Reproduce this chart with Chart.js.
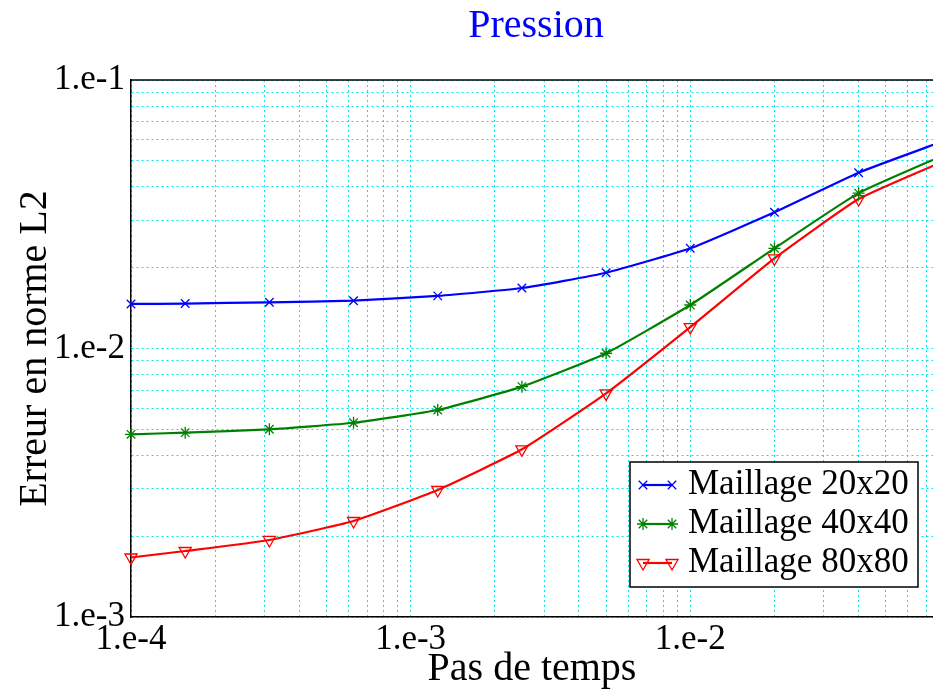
<!DOCTYPE html>
<html>
<head>
<meta charset="utf-8">
<script src="https://cdn.jsdelivr.net/npm/chart.js@4/dist/chart.umd.min.js"></script>
<style>
  body{margin:0;background:#fff;}
  canvas{display:block;}
</style>
</head>
<body>
<canvas id="errChart" width="933" height="693"></canvas>
<script>
// time steps (x) and L2 errors of the pressure for each mesh
const timeSteps=[1e-4,1.5625e-4,3.125e-4,6.25e-4,1.25e-3,2.5e-3,5e-3,1e-2,2e-2,4e-2,8e-2];
const err20=[0.01465,0.0147,0.01486,0.01507,0.0157,0.0168,0.01915,0.02361,0.03216,0.04517,0.0591];
const err40=[0.00479,0.00486,0.0050,0.00529,0.0059,0.00721,0.0096,0.01452,0.02361,0.0379,0.0523];
const err80=[0.001666,0.001761,0.001936,0.002278,0.002972,0.004212,0.006808,0.01202,0.02167,0.03603,0.04968];
const seriesNames=["Maillage 20x20","Maillage 40x40","Maillage 80x80"];

// labelled ticks
const xMajor=[1e-4,1e-3,1e-2];
const xMajorLabels=["1.e-4","1.e-3","1.e-2"];
const yMajor=[1e-3,1e-2,1e-1];
const yMajorLabels=["1.e-3","1.e-2","1.e-1"];
const gridMult=[1,2,3,4,5,6,7,8,9];

const X_MIN=1e-4, X_MAX=0.0738, Y_MIN=1e-3, Y_MAX=1e-1;
const serif="'Liberation Serif','Times New Roman',serif";

function logTicks(min,max){
  let out=[];
  for(let e=Math.floor(Math.log10(min));e<=Math.ceil(Math.log10(max));e++){
    gridMult.forEach(m=>{
      let v=+(m*Math.pow(10,e)).toPrecision(6);
      if(v>=min*0.999&&v<=max*1.001) out.push({value:v});
    });
  }
  return out;
}
function majorLabel(v,majors,labels){
  let i=majors.findIndex(m=>Math.abs(m-v)/m<1e-6);
  return i>=0?labels[i]:"";
}

const colors=["#0000ff","#008000","#ff0000"];
const gridCol="#00e8e8";
const mk=(d)=>timeSteps.map((t,i)=>({x:t,y:d[i]}));

// title, top frame and legend box drawn on top of the chart area
const decor={
  id:"decor",
  afterDraw(chart){
    const ctx=chart.ctx, a=chart.chartArea;
    ctx.save();
    // top frame line
    ctx.strokeStyle="#000";ctx.lineWidth=1.5;
    ctx.beginPath();ctx.moveTo(a.left,a.top);ctx.lineTo(a.right,a.top);ctx.stroke();
    // title
    ctx.fillStyle="#0000ff";ctx.font="40px "+serif;
    ctx.textAlign="center";ctx.textBaseline="middle";
    ctx.fillText("Pression",(a.left+a.right)/2+4,26);
    // legend
    const bx=630,by=462,bw=288,bh=125;
    ctx.fillStyle="#fff";ctx.fillRect(bx,by,bw,bh);
    ctx.strokeStyle="#000";ctx.lineWidth=1.5;ctx.strokeRect(bx,by,bw,bh);
    chart.data.datasets.forEach((ds,i)=>{
      let y=by+23+i*39;
      ctx.strokeStyle=ds.borderColor;ctx.lineWidth=ds.borderWidth;
      ctx.beginPath();ctx.moveTo(643,y);ctx.lineTo(672,y);ctx.stroke();
      ctx.fillStyle="rgba(0,0,0,0)";ctx.lineWidth=ds.pointBorderWidth;
      [643,672].forEach(px=>{
        Chart.helpers.drawPoint(ctx,{pointStyle:ds.pointStyle,rotation:ds.pointRotation||0,radius:ds.pointRadius,borderWidth:ds.pointBorderWidth},px,y);
      });
      ctx.fillStyle="#000";ctx.font="35px "+serif;
      ctx.textAlign="left";ctx.textBaseline="middle";
      ctx.fillText(ds.label,688,y);
    });
    ctx.restore();
  }
};

const common={fill:false,borderWidth:2.2,pointBorderWidth:1.3,tension:0.15,
  pointBackgroundColor:"rgba(0,0,0,0)",clip:{left:12,top:0,right:0,bottom:12}};

new Chart(document.getElementById("errChart").getContext("2d"),{
  type:"line",
  data:{datasets:[
    {...common,label:seriesNames[0],data:mk(err20),borderColor:colors[0],pointBorderColor:colors[0],pointStyle:"crossRot",pointRadius:6},
    {...common,label:seriesNames[1],data:mk(err40),borderColor:colors[1],pointBorderColor:colors[1],pointStyle:"star",pointRadius:6},
    {...common,label:seriesNames[2],data:mk(err80),borderColor:colors[2],pointBorderColor:colors[2],pointStyle:"triangle",pointRotation:180,pointRadius:7}
  ]},
  options:{
    responsive:false,animation:false,
    layout:{autoPadding:false,padding:{top:80,right:0,left:0,bottom:0}},
    plugins:{legend:{display:false},tooltip:{enabled:false},title:{display:false}},
    scales:{
      x:{type:"logarithmic",min:X_MIN,max:X_MAX,
        afterBuildTicks:s=>{s.ticks=logTicks(X_MIN,X_MAX);},
        afterFit:s=>{s.height=76;s.paddingRight=0;s.paddingLeft=0;},
        grid:{color:gridCol,lineWidth:1,drawTicks:false},
        border:{display:true,color:"#000",width:1.5,dash:[2,3]},
        ticks:{autoSkip:false,maxRotation:0,padding:2,color:"#000",font:{family:serif,size:35},
          callback:v=>majorLabel(v,xMajor,xMajorLabels)},
        title:{display:true,text:"Pas de temps",color:"#000",font:{family:serif,size:40},padding:{top:0,bottom:0}}
      },
      y:{type:"logarithmic",min:Y_MIN,max:Y_MAX,
        afterBuildTicks:s=>{s.ticks=logTicks(Y_MIN,Y_MAX);},
        afterFit:s=>{s.width=131;s.paddingTop=0;s.paddingBottom=0;},
        grid:{color:gridCol,lineWidth:1,drawTicks:false},
        border:{display:true,color:"#000",width:1.5,dash:[2,3]},
        ticks:{autoSkip:false,padding:6,color:"#000",font:{family:serif,size:35},
          callback:v=>majorLabel(v,yMajor,yMajorLabels)},
        title:{display:true,text:"Erreur en norme L2",color:"#000",font:{family:serif,size:40},padding:{top:11,bottom:0}}
      }
    }
  },
  plugins:[decor]
});
</script>
</body>
</html>
